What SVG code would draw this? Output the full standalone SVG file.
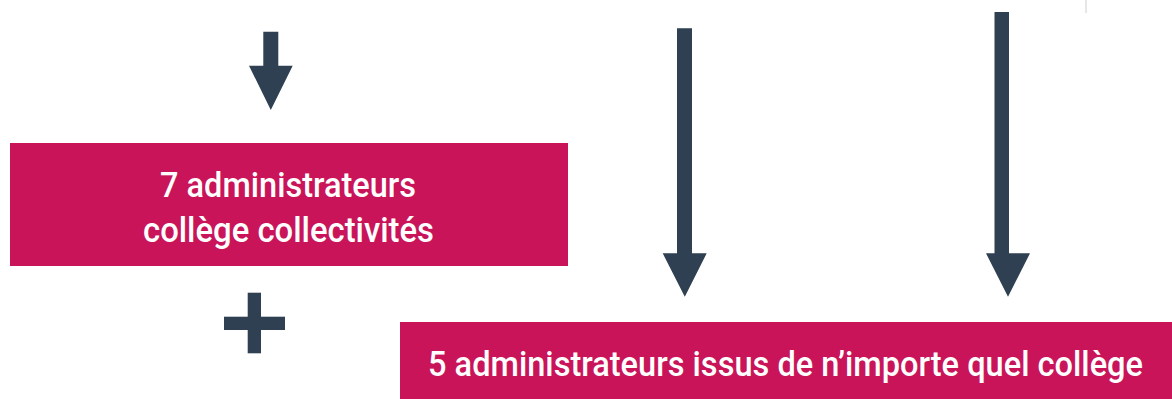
<svg xmlns="http://www.w3.org/2000/svg" width="1172" height="399" viewBox="0 0 1172 399">
  <style>
    .box { fill: #C91459; }
    .lbl { font-family: "Roboto", "Liberation Sans", sans-serif; font-size: 35px; font-weight: 500; fill: #ffffff; text-anchor: middle; }
    .arrow { fill: #2E4052; }
  </style>
  <rect width="1172" height="399" fill="#ffffff"/>
  <line x1="1086" y1="0" x2="1086" y2="13" stroke="#dedede" stroke-width="1.5"/>

  <g id="node-college-collectivites">
    <rect class="box" x="10" y="143" width="558" height="123"/>
    <text class="lbl" x="288" y="197" textLength="256" lengthAdjust="spacingAndGlyphs">7 administrateurs</text>
    <text class="lbl" x="288.5" y="242" textLength="291" lengthAdjust="spacingAndGlyphs">collège collectivités</text>
  </g>

  <g id="node-plus">
    <rect class="arrow" x="247.7" y="292.7" width="13.3" height="60.6"/>
    <rect class="arrow" x="224" y="316.7" width="61" height="13.3"/>
  </g>

  <g id="node-autres-colleges">
    <rect class="box" x="400" y="322" width="772" height="77"/>
    <text class="lbl" x="785.5" y="376" textLength="715" lengthAdjust="spacingAndGlyphs">5 administrateurs issus de n’importe quel collège</text>
  </g>

  <g id="connectors">
    <polygon class="arrow" points="263.3,31.7 278.3,31.7 278.3,65.7 292.7,65.7 270.8,110 249,65.7 263.3,65.7"/>
    <polygon class="arrow" points="677,28.3 692,28.3 692,253.3 706.7,253.3 684.8,296.7 662.7,253.3 677,253.3"/>
    <polygon class="arrow" points="994.5,12 1009,12 1009,253.3 1030,253.3 1008,296.7 986,253.3 994.5,253.3"/>
  </g>
</svg>
